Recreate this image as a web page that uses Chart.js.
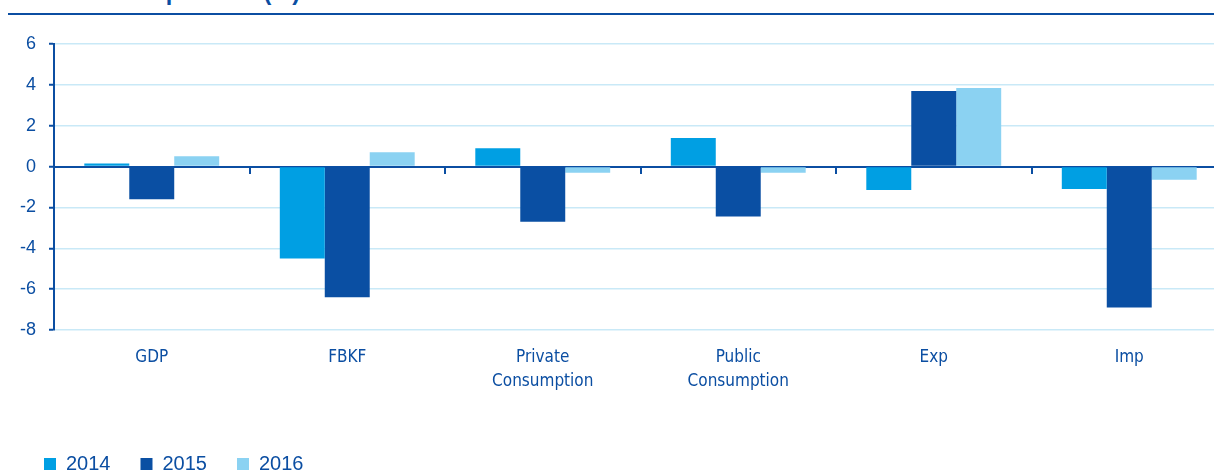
<!DOCTYPE html>
<html lang="en">
<head>
    <meta charset="UTF-8" />
    <title>GDP and components (%)</title>
    <script src="https://cdn.jsdelivr.net/npm/chart.js"></script>
    <style>
        * {
            box-sizing: border-box;
            margin: 0;
            padding: 0;
        }

        body {
            width: 1214px;
            height: 471px;
            overflow: hidden;
            background: #ffffff;
            position: relative;
            font-family: 'Liberation Sans', Arial, sans-serif;
        }

        .title {
            position: absolute;
            top: -21px;
            left: 12px;
            font-size: 23.5px;
            font-weight: bold;
            color: #0b4ea2;
            white-space: nowrap;
        }

        .rule {
            position: absolute;
            top: 13px;
            left: 8px;
            width: 1206px;
            height: 2px;
            background: #0b4ea2;
        }

        .chart-box {
            position: absolute;
            top: 0;
            left: 0;
            width: 1227px;
            height: 471px;
        }
    </style>
</head>
<body>
    <div class="title">GDP and components (%)</div>
    <div class="rule"></div>
    <div class="chart-box"><canvas id="gdpChart"></canvas></div>

    <script>
        const categories = ['GDP', 'FBKF', ['Private', 'Consumption'], ['Public', 'Consumption'], 'Exp', 'Imp'];
        const years = ['2014', '2015', '2016'];
        const values2014 = [0.15, -4.5, 0.9, 1.4, -1.15, -1.1];
        const values2015 = [-1.6, -6.4, -2.7, -2.45, 3.7, -6.9];
        const values2016 = [0.5, 0.7, -0.3, -0.3, 3.85, -0.65];
        const yTicks = { min: -8, max: 6, step: 2 };

        const dark = '#0b4ea2';
        const colors = ['#009fe3', '#0a4fa3', '#8bd2f2'];
        const gridLight = '#c9e9f7';

        const ctx = document.getElementById('gdpChart').getContext('2d');
        new Chart(ctx, {
            type: 'bar',
            data: {
                labels: categories,
                datasets: [values2014, values2015, values2016].map((vals, i) => ({
                    label: years[i],
                    data: vals,
                    backgroundColor: colors[i],
                    borderWidth: 0,
                    categoryPercentage: 0.69,
                    barPercentage: 1.0
                }))
            },
            options: {
                responsive: true,
                maintainAspectRatio: false,
                animation: false,
                layout: { padding: { top: 44, left: 14, right: 0, bottom: -13 } },
                plugins: {
                    legend: {
                        position: 'bottom',
                        align: 'start',
                        labels: {
                            boxWidth: 12,
                            boxHeight: 12,
                            padding: 30,
                            color: dark,
                            font: { family: "'Liberation Sans', Arial, sans-serif", size: 20 }
                        }
                    },
                    tooltip: { enabled: false }
                },
                scales: {
                    x: {
                        offset: true,
                        grid: { display: false },
                        border: { display: false },
                        ticks: {
                            color: dark,
                            padding: 7,
                            maxRotation: 0,
                            autoSkip: false,
                            font: { family: "'DejaVu Sans Condensed', 'Liberation Sans', sans-serif", size: 17, lineHeight: 1.44 }
                        },
                        afterFit: scale => { scale.height = 94; }
                    },
                    zero: {
                        axis: 'x',
                        type: 'category',
                        position: { y: 0 },
                        offset: true,
                        z: 1,
                        grid: {
                            offset: true,
                            drawOnChartArea: false,
                            drawTicks: true,
                            tickLength: 6,
                            color: dark,
                            lineWidth: 2
                        },
                        border: { display: true, color: dark, width: 2 },
                        ticks: { display: false }
                    },
                    y: {
                        min: yTicks.min,
                        max: yTicks.max,
                        border: { display: true, color: dark, width: 2 },
                        grid: {
                            color: c => c.tick && c.tick.value === 0 ? 'rgba(0,0,0,0)' : gridLight,
                            lineWidth: 1.5,
                            drawTicks: true,
                            tickLength: 5,
                            tickColor: dark,
                            tickWidth: 2
                        },
                        ticks: {
                            stepSize: yTicks.step,
                            padding: 13,
                            color: dark,
                            font: { family: "'Liberation Sans', Arial, sans-serif", size: 18 }
                        },
                        afterFit: scale => { scale.width = 40; }
                    }
                }
            }
        });
    </script>
</body>
</html>
